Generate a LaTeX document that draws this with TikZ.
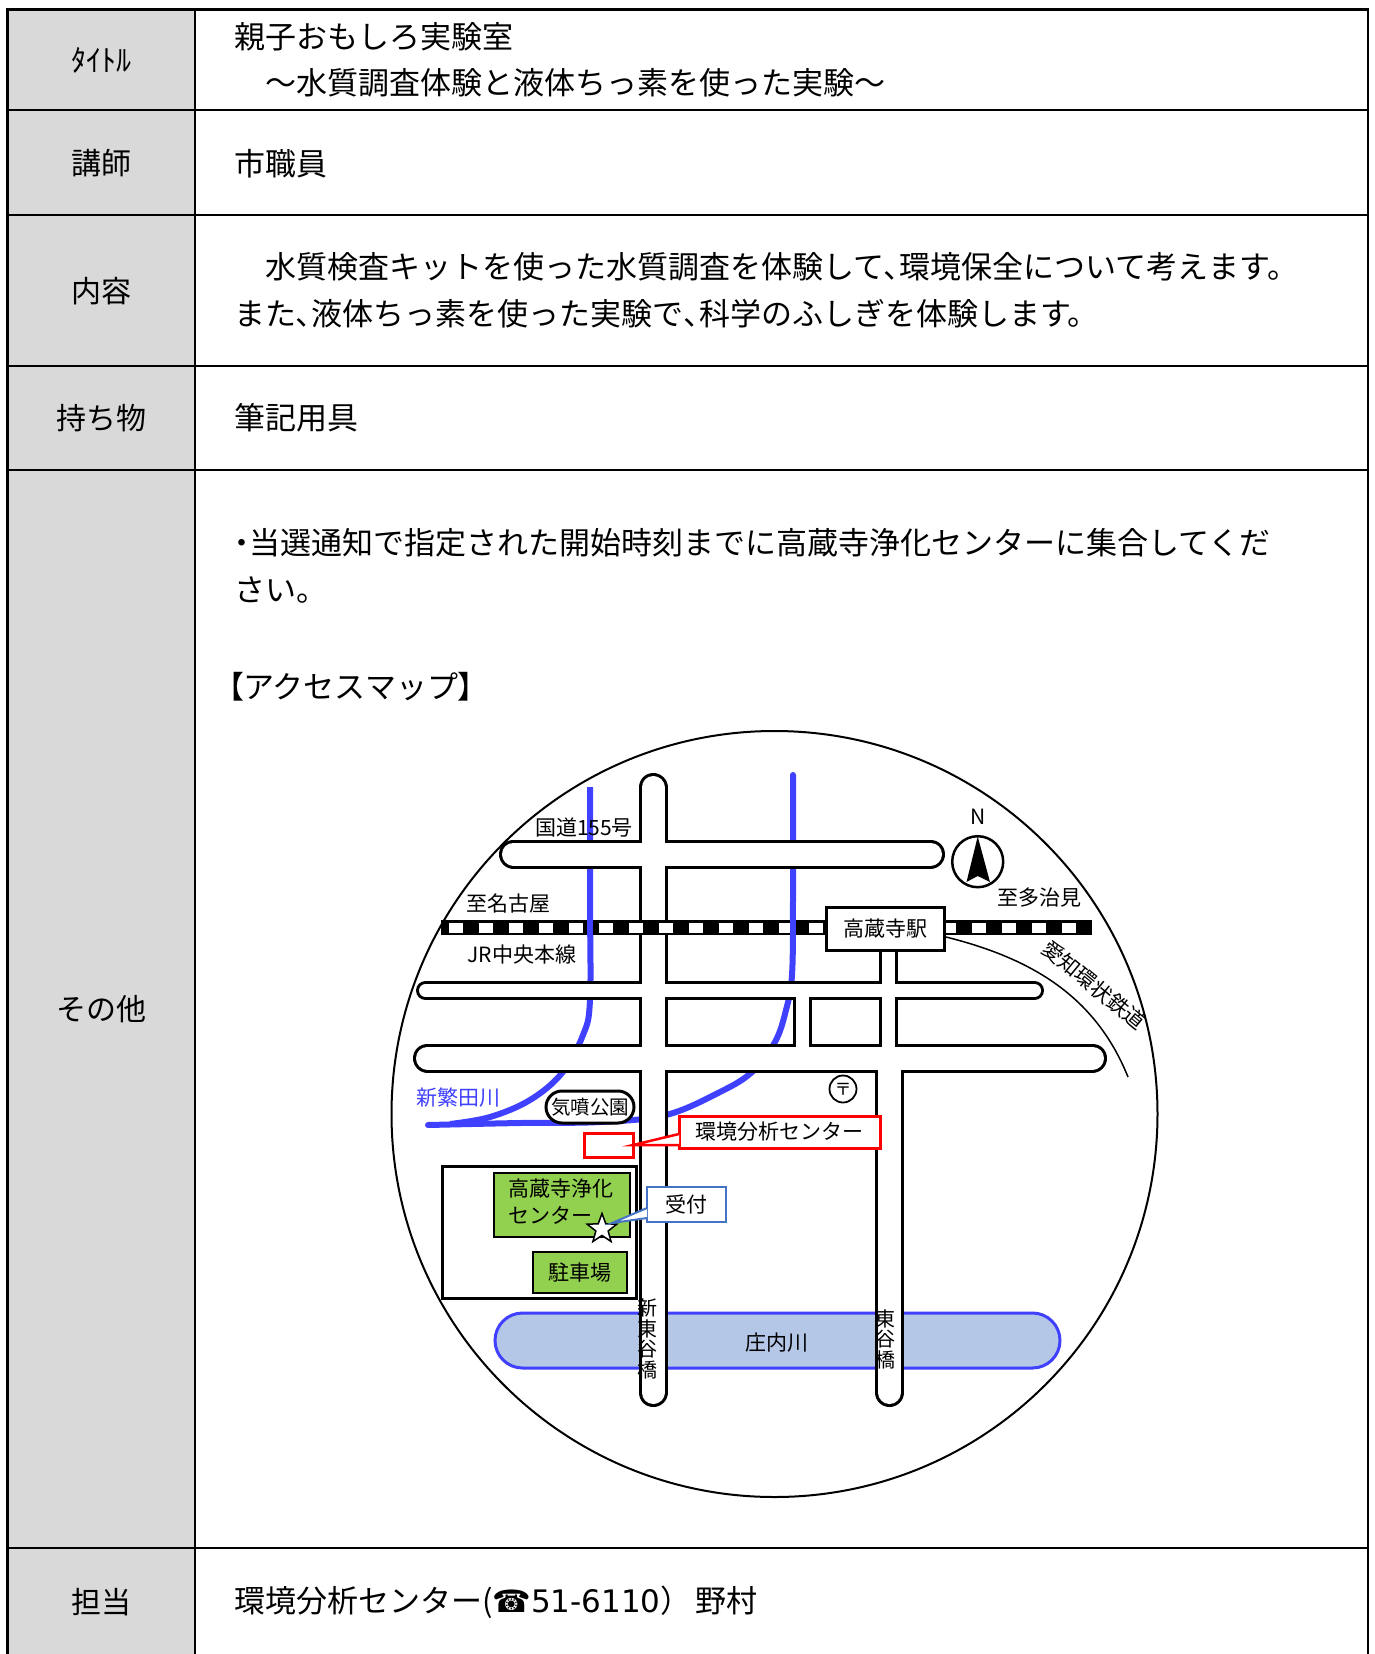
\documentclass[tikz,border=0pt]{standalone}
\usepackage{fontspec}
\setmainfont{Noto Sans CJK JP}
\newfontfamily\jpp{Noto Sans CJK JP}[RawFeature=+palt]
\newfontfamily\symfont{DejaVu Sans}
\newcommand\pnarrow[1]{{\jpp #1}}
\usetikzlibrary{shapes.geometric}
\definecolor{labelgray}{RGB}{217,217,217}
\definecolor{riverblue}{RGB}{64,64,255}
\definecolor{riverfill}{RGB}{180,199,231}
\definecolor{boxgreen}{RGB}{146,208,80}
\definecolor{calloutblue}{RGB}{68,114,196}
\definecolor{redline}{RGB}{255,0,0}
\tikzset{
  tabline/.style={line width=2.5pt, black},
  lab/.style={font=\fontsize{30}{36}\selectfont, anchor=center},
  body/.style={font=\fontsize{31}{37}\selectfont, anchor=west},
  maptext/.style={font=\fontsize{21}{24}\selectfont},
  roadB/.style={line width=29pt, black, line cap=round},
  roadW/.style={line width=23pt, white, line cap=round},
  nroadB/.style={line width=19pt, black, line cap=round},
  nroadW/.style={line width=13pt, white, line cap=round},
  river/.style={line width=6pt, riverblue},
  railwhite/.style={fill=white},
}
\begin{document}
\begin{tikzpicture}[x=1pt,y=-1pt, every node/.style={inner sep=0pt, outer sep=0pt}]
\useasboundingbox (0,0) rectangle (1375,1654);
\fill[white] (0,0) rectangle (1375,1654);
% ---------- table ----------
\fill[labelgray] (7.5,9.5) rectangle (195,1654);
\draw[tabline] (7.5,1654) -- (7.5,9.5) -- (1368,9.5) -- (1368,1654);
\draw[tabline] (195,9.5) -- (195,1654);
\foreach \yy in {110,215,366,470,1548} \draw[tabline] (7.5,\yy) -- (1368,\yy);
% labels
\node[lab] (l1) at (101,60) {ﾀｲﾄﾙ};
\node[lab] (l2) at (101,163) {講師};
\node[lab] (l3) at (101,291) {内容};
\node[lab] (l4) at (101,418) {持ち物};
\node[lab] (l5) at (101,1009) {その他};
\node[lab] (l6) at (101,1602) {担当};
% contents
\node[body] (t1) at (234,37) {親子おもしろ実験室};
\node[body] (t2) at (234,83) {　～水質調査体験と液体ちっ素を使った実験～};
\node[body] (t3) at (234,164) {市職員};
\node[body] (t4) at (234,267) {　水質検査キットを使った水質調査を体験して\pnarrow{、}環境保全について考えます。};
\node[body] (t5) at (234,314) {また\pnarrow{、}液体ちっ素を使った実験で\pnarrow{、}科学のふしぎを体験します。};
\node[body] (t6) at (234,418) {筆記用具};
\node[body] (t7) at (234,543) {\pnarrow{・}当選通知で指定された開始時刻までに高蔵寺浄化センターに集合してくだ};
\node[body] (t8) at (234,590) {さい。};
\node[body] (t9) at (228,687) {\pnarrow{【}アクセスマップ\pnarrow{】}};
\node[body] (t10) at (234,1602) {環境分析センター({\symfont\bfseries ☎}{\symfont 51-6110}）\hspace{4pt}野村};
% ---------- map ----------
\draw[line width=2pt] (774.5,1114) circle (383);
% Shonai river
\draw[line width=3pt, riverblue, fill=riverfill, rounded corners=27.5pt] (495,1313) rectangle (1060,1368);
% blue rivers
\draw[river, line cap=round] plot[smooth, tension=0.6] coordinates {(428,1125) (520,1123) (600,1122) (666,1115) (720,1092) (752,1072) (775,1042) (786,1010) (792,975) (793,900) (793,775)};
\draw[river] plot[smooth, tension=0.6] coordinates {(590,787) (590,900) (590,1000) (583,1035) (562,1073) (530,1100) (490,1117) (450,1124)};
% roads: casing
\draw[roadB] (513.5,854) -- (930.5,854);
\draw[nroadB] (425.5,990.5) -- (1034.5,990.5);
\draw[roadB] (427.5,1058) -- (1092.5,1058);
\draw[roadB] (653,787.5) -- (653,1392.5);
\draw[roadB] (889.5,1058) -- (889.5,1392.5);
\draw[nroadB] (888,945) -- (888,1058);
\draw[nroadB] (802,990.5) -- (802,1058);
% roads: fill
\draw[roadW] (513.5,854) -- (930.5,854);
\draw[nroadW] (425.5,990.5) -- (1034.5,990.5);
\draw[roadW] (427.5,1058) -- (1092.5,1058);
\draw[roadW] (653,787.5) -- (653,1392.5);
\draw[roadW] (889.5,1058) -- (889.5,1392.5);
\draw[nroadW] (888,945) -- (888,1058);
\draw[nroadW] (802,990.5) -- (802,1058);
% railway
\fill[black] (441,920) rectangle (1092,935);
\foreach \k in {0,...,12} \fill[railwhite] (449+30*\k,922.7) rectangle (463+30*\k,933.3);
\foreach \k in {0,...,4} \fill[railwhite] (942+30*\k,922.7) rectangle (956+30*\k,933.3);
% rivers over the railway
\draw[river] (590,918) -- (590,937);
\draw[river] (793,918) -- (793,937);
% Aichi loop railway
\draw[line width=1.5pt] (946,937) .. controls (1030,958) and (1095,995) .. (1128,1077);
% station
\node[draw, line width=3pt, fill=white, minimum width=118pt, minimum height=43pt, maptext] (sta) at (885.5,929) {高蔵寺駅};
% compass
\node[maptext] (north) at (978,817) {N};
\node[draw, circle, line width=2.5pt, minimum size=51pt] (comp) at (977.7,861.7) {};
\coordinate (ctip) at (977.7,836.5);
\coordinate (cleft) at (966.5,882);
\coordinate (cright) at (990,882);
\coordinate (cnotch) at (977.7,876);
\fill[black] (ctip) -- (cright) -- (cnotch) -- (cleft) -- cycle;
% map labels
\node[maptext, anchor=west] (r155) at (535,828) {国道155号};
\node[maptext] (nagoya) at (508,903) {至名古屋};
\node[maptext] (jr) at (522,955) {JR中央本線};
\node[maptext] (tajimi) at (1039,898) {至多治見};
\node[maptext, rotate=-39.5] (aikan) at (1094,985) {愛知環状鉄道};
\node[maptext, text=riverblue] (shinsh) at (458,1098) {新繁田川};
\node[draw, line width=3pt, fill=white, rounded corners=16pt, minimum width=88pt, minimum height=32pt, font=\fontsize{19.5}{22}\selectfont] (park) at (590,1107) {気噴公園};
\node[draw, circle, line width=1.8pt, minimum size=27pt, font=\fontsize{17}{17}\selectfont] (post) at (843,1089) {〒};
% environment analysis center
\node[draw=redline, line width=3pt, fill=white, minimum width=201pt, minimum height=32pt, maptext] (eac) at (779.5,1132) {環境分析センター};
\node[draw=redline, line width=3pt, minimum width=49pt, minimum height=24pt] (eacs) at (608.5,1145) {};
\coordinate (rw1) at (679,1134);
\coordinate (rw2) at (679,1145);
\fill[white] (rw1) -- (eacs.east) -- (rw2) -- cycle;
\draw[redline, line width=2.5pt] (rw1) -- (eacs.east) -- (rw2);
% purification center site
\draw[line width=3pt] (442,1166) rectangle (636,1298);
\node[draw, line width=2pt, fill=boxgreen, minimum width=136pt, minimum height=64pt] (pc) at (562,1205) {};
\node[maptext, anchor=west] (pc1) at (508,1189) {高蔵寺浄化};
\node[maptext, anchor=west] (pc2) at (508,1215) {センター};
\node[draw, line width=2pt, fill=boxgreen, minimum width=94pt, minimum height=41pt, maptext] (park2) at (580,1272.5) {駐車場};
\node[star, star points=5, star point ratio=2.4, draw, line width=1.5pt, fill=white, minimum size=31pt] (star) at (602,1229) {};
% reception
\node[draw=calloutblue, line width=2.5pt, fill=white, minimum width=79pt, minimum height=35pt, maptext] (uke) at (686.5,1204.5) {受付};
\coordinate (bw1) at (647,1208);
\coordinate (bw2) at (647,1218);
\coordinate (bw3) at (612,1223);
\fill[white] (bw1) -- (bw3) -- (bw2) -- cycle;
\draw[calloutblue, line width=2pt] (bw1) -- (bw3) -- (bw2);
% shonai river label and bridges
\node[maptext] (shonai) at (777,1343) {庄内川};
\node[maptext, align=center, font=\fontsize{20}{20.5}\selectfont] (b1) at (647,1339) {新\\東\\谷\\橋};
\node[maptext, align=center, font=\fontsize{20}{20.5}\selectfont] (b2) at (885,1339) {東\\谷\\橋};
\end{tikzpicture}
\end{document}
